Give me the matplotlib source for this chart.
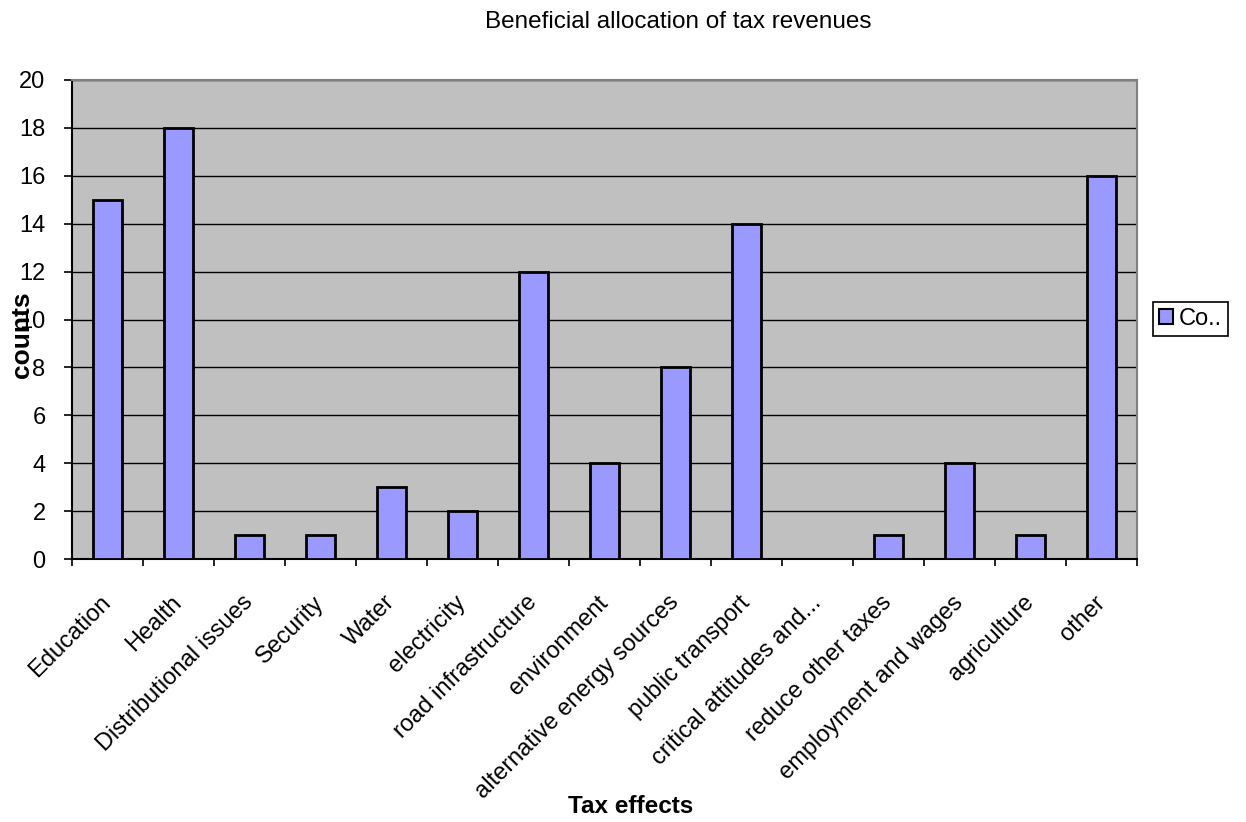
import matplotlib
matplotlib.use("Agg")
import matplotlib.pyplot as plt
from matplotlib.patches import Patch
import numpy as np

plt.rcParams['font.family'] = ['Liberation Sans', 'DejaVu Sans']

categories = ["Education", "Health", "Distributional issues", "Security", "Water",
              "electricity", "road infrastructure", "environment",
              "alternative energy sources", "public transport",
              "critical attitudes and...", "reduce other taxes",
              "employment and wages", "agriculture", "other"]
counts = [15, 18, 1, 1, 3, 2, 12, 4, 8, 14, 0, 1, 4, 1, 16]
y_ticks = [0, 2, 4, 6, 8, 10, 12, 14, 16, 18, 20]
series_name = "Co.."

W, H = 1246, 822
fig = plt.figure(figsize=(W / 100, H / 100), dpi=100)
ax = fig.add_axes([72 / W, 1 - 559 / H, (1137 - 72) / W, (559 - 80) / H])
ax.set_facecolor("#C0C0C0")

x = np.arange(len(categories))
bar_color = "#9999FF"
ax.bar(x, counts, width=0.41, color=bar_color, edgecolor="black", linewidth=2,
       zorder=3, label=series_name)

ax.set_xlim(-0.5, len(categories) - 0.5)
ax.set_ylim(0, 20)
ax.set_yticks(y_ticks)
ax.set_yticklabels([str(v) for v in y_ticks], fontsize=17)
ax.yaxis.grid(True, color="black", linewidth=1.0, zorder=1)
ax.set_axisbelow(True)

# category labels at bar centres, tick marks on category boundaries
ax.set_xticks(x)
ax.set_xticklabels(categories, fontsize=17, rotation=45, ha="right",
                   va="center", rotation_mode="anchor")
ax.tick_params(axis="x", which="major", length=0, pad=29)
ax.set_xticks(np.arange(-0.5, len(categories), 1.0), minor=True)
ax.tick_params(axis="x", which="minor", length=5, width=1.2, direction="out",
               color="black")
ax.tick_params(axis="y", length=6, width=1.2, direction="out", pad=13)

for side in ("left", "bottom"):
    ax.spines[side].set_color("black")
    ax.spines[side].set_linewidth(1.5)
for side in ("top", "right"):
    ax.spines[side].set_color("#808080")
    ax.spines[side].set_linewidth(1.5)

fig.text(678 / W, 1 - 22 / H, "Beneficial allocation of tax revenues",
         ha="center", va="center", fontsize=17.5)
fig.text(631 / W, 1 - 806 / H, "Tax effects", ha="center", va="center",
         fontsize=17.5, fontweight="bold")
fig.text(22 / W, 1 - 335 / H, "counts", ha="center", va="center",
         rotation=90, fontsize=19, fontweight="bold")

leg = fig.legend(handles=[Patch(facecolor=bar_color, edgecolor="black", linewidth=1.5)],
                 labels=[series_name], loc="center left",
                 bbox_to_anchor=(1153 / W, 1 - 319 / H), fontsize=17,
                 frameon=True, fancybox=False, framealpha=1,
                 edgecolor="black", handlelength=0.6, handleheight=0.6,
                 handletextpad=0.25, borderpad=0.25, borderaxespad=0)
leg.get_frame().set_linewidth(1.2)

fig.savefig("out.png", dpi=100)
